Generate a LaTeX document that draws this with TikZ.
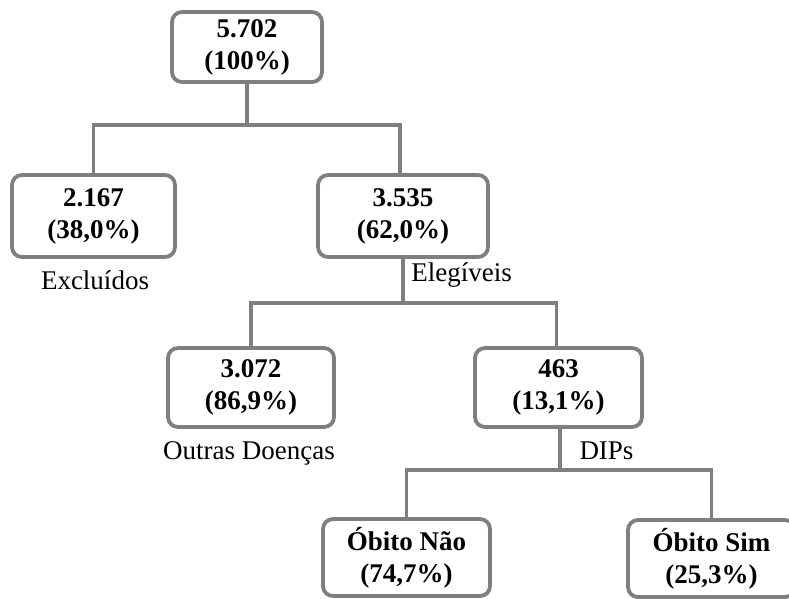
\documentclass[tikz,border=0pt]{standalone}
\usepackage{fontspec}
\setmainfont{Liberation Serif}
\definecolor{linegray}{HTML}{7F7F7F}
\begin{document}
\begin{tikzpicture}[x=1pt,y=-1pt,
  box/.style={draw=linegray, line width=3.8pt, rounded corners=10pt, fill=white,
    align=center, inner sep=0pt, font=\fontsize{27}{32}\selectfont\bfseries},
  lbl/.style={anchor=base, inner sep=0pt, font=\fontsize{27}{30}\selectfont},
  conn/.style={draw=linegray, line width=3.8pt}]
\useasboundingbox (0,0) rectangle (789,598);
\fill[white] (0,0) rectangle (789,598);
% boxes
\node[box, minimum width=150pt, minimum height=70pt] (root) at (247,47) {5.702\\(100\%)};
\node[box, minimum width=163pt, minimum height=82pt] (excl) at (93.5,216) {2.167\\(38,0\%)};
\node[box, minimum width=170pt, minimum height=82pt] (eleg) at (403,216) {3.535\\(62,0\%)};
\node[box, minimum width=166pt, minimum height=79pt] (outr) at (251,387.5) {3.072\\(86,9\%)};
\node[box, minimum width=167pt, minimum height=79pt] (dips) at (558.5,387.5) {463\\(13,1\%)};
\node[box, minimum width=167pt, minimum height=77pt] (nao) at (406.5,557.5) {Óbito Não\\(74,7\%)};
\node[box, minimum width=167pt, minimum height=77pt] (sim) at (711.5,558.5) {Óbito Sim\\(25,3\%)};
% labels
\node[lbl] (lexcl) at (95,289) {Excluídos};
\node[lbl] (leleg) at (461.5,281) {Elegíveis};
\node[lbl] (loutr) at (249,459) {Outras Doenças};
\node[lbl] (ldips) at (606.5,459) {DIPs};
% connectors
\coordinate (j1) at (247,125);
\coordinate (j2) at (403,303);
\coordinate (j3) at (560,470);
\draw[conn] (root.south) -- (j1);
\draw[conn] (j1) -| (excl.north);
\draw[conn] (j1) -| ([xshift=-3pt]eleg.north);
\draw[conn] (eleg.south) -- (j2);
\draw[conn] (j2) -| (outr.north);
\draw[conn] (j2) -| ([xshift=-2pt]dips.north);
\draw[conn] ([xshift=1.5pt]dips.south) -- (j3);
\draw[conn] (j3) -| (nao.north);
\draw[conn] (j3) -| (sim.north);
\end{tikzpicture}
\end{document}
